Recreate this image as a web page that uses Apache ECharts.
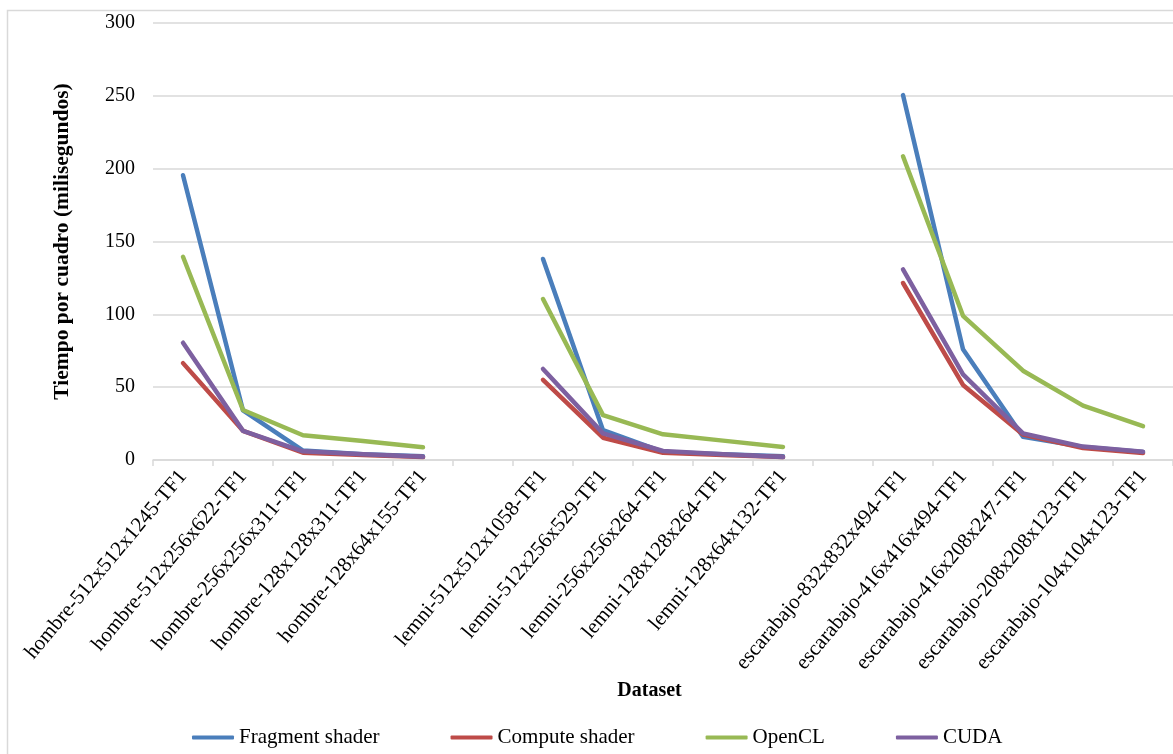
<!DOCTYPE html>
<html>
<head>
<meta charset="utf-8">
<script src="https://cdn.jsdelivr.net/npm/echarts@6/dist/echarts.min.js"></script>
<style>
  html, body { margin: 0; padding: 0; background: #fff; }
  #chart { width: 1173px; height: 754px; }
</style>
</head>
<body>
<div id="chart"></div>
<script>
// Dataset names; empty entries separate the three volume groups
const categories = [
  'hombre-512x512x1245-TF1', 'hombre-512x256x622-TF1', 'hombre-256x256x311-TF1',
  'hombre-128x128x311-TF1', 'hombre-128x64x155-TF1', '',
  'lemni-512x512x1058-TF1', 'lemni-512x256x529-TF1', 'lemni-256x256x264-TF1',
  'lemni-128x128x264-TF1', 'lemni-128x64x132-TF1', '',
  'escarabajo-832x832x494-TF1', 'escarabajo-416x416x494-TF1', 'escarabajo-416x208x247-TF1',
  'escarabajo-208x208x123-TF1', 'escarabajo-104x104x123-TF1'
];

// Time per frame (ms)
const fragmentShader = [195.5, 34, 6.5, 4, 2.5, null, 138, 20.5, 5.5, 4, 2.5, null, 250.5, 76, 16, 9, 5.5];
const computeShader  = [66.5, 20, 5, 3.5, 2, null, 55, 15.3, 5, 3.5, 2, null, 121.5, 51.5, 17.5, 8.2, 4.8];
const openCL         = [139.5, 34.3, 17, 13, 8.7, null, 110.5, 30.8, 17.6, 13.3, 9, null, 208.5, 99, 61.3, 37.3, 23.2];
const cuda           = [80.5, 20, 6, 4, 2.2, null, 62.5, 18.3, 6.2, 4, 2, null, 130.8, 58.8, 18.3, 9.2, 5.7];

const seriesNames = ['Fragment shader', 'Compute shader', 'OpenCL', 'CUDA'];
const seriesColors = ['#4A7EBB', '#BE4B48', '#98B954', '#7D60A0'];
const seriesData = [fragmentShader, computeShader, openCL, cuda];

const FONT = 'Liberation Serif, Times New Roman, serif';
const GRID_COLOR = '#d9d9d9';

const chart = echarts.init(document.getElementById('chart'), null, { renderer: 'canvas' });

chart.setOption({
  backgroundColor: '#ffffff',
  animation: false,
  textStyle: { fontFamily: FONT },
  graphic: [{
    type: 'rect',
    shape: { x: 7.5, y: 10.5, width: 1300, height: 900 },
    style: { fill: 'none', stroke: GRID_COLOR, lineWidth: 1.5 },
    silent: true,
    z: -1
  }],
  grid: { left: 153, top: 23, width: 1023, height: 437, containLabel: false },
  legend: {
    left: 187,
    top: 722,
    itemWidth: 42,
    itemHeight: 4,
    itemGap: 71,
    icon: 'roundRect',
    textStyle: { fontFamily: FONT, fontSize: 21, color: '#000' },
    data: seriesNames
  },
  xAxis: {
    type: 'category',
    data: categories,
    boundaryGap: true,
    axisLine: { lineStyle: { color: GRID_COLOR, width: 1.5 } },
    axisTick: { show: true, interval: 0, length: 6, lineStyle: { color: GRID_COLOR, width: 1.5 } },
    axisLabel: {
      interval: 0,
      rotate: 50,
      margin: 13,
      fontFamily: FONT,
      fontSize: 21,
      color: '#000'
    },
    name: 'Dataset',
    nameLocation: 'middle',
    nameGap: 221,
    nameTextStyle: {
      fontFamily: FONT,
      fontSize: 20,
      fontWeight: 'bold',
      color: '#000',
      padding: [0, 27, 0, 0]
    }
  },
  yAxis: {
    type: 'value',
    min: 0,
    max: 300,
    interval: 50,
    axisLine: { show: false },
    axisTick: { show: false },
    splitLine: { lineStyle: { color: GRID_COLOR, width: 1.5 } },
    axisLabel: { margin: 18, fontFamily: FONT, fontSize: 20, color: '#000' },
    name: 'Tiempo por cuadro (milisegundos)',
    nameLocation: 'middle',
    nameGap: 80,
    nameTextStyle: { fontFamily: FONT, fontSize: 21.5, fontWeight: 'bold', color: '#000' }
  },
  series: seriesNames.map((name, i) => ({
    name: name,
    type: 'line',
    data: seriesData[i],
    showSymbol: false,
    connectNulls: false,
    color: seriesColors[i],
    lineStyle: { width: 4.5, color: seriesColors[i], cap: 'round', join: 'round' }
  }))
});
</script>
</body>
</html>
